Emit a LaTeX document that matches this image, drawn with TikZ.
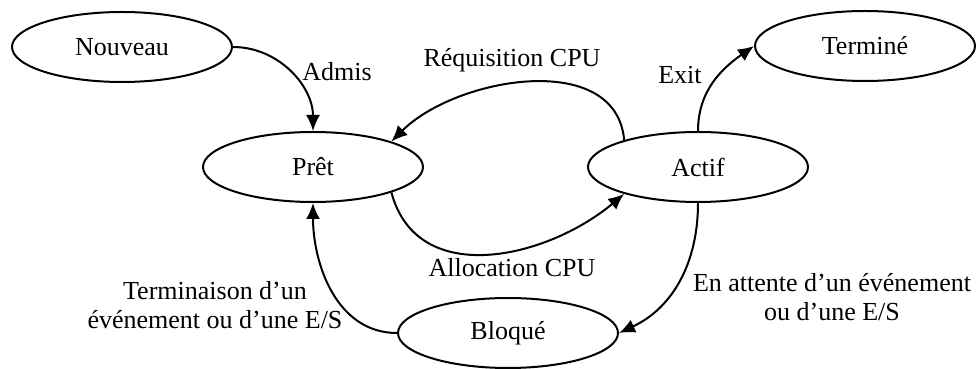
\documentclass[tikz,border=0pt]{standalone}
\usepackage{fontspec}
\setmainfont{Liberation Serif}
\usetikzlibrary{shapes.geometric,arrows.meta}

\tikzset{
	etat/.style={draw,ellipse,line width=1pt,minimum width=110pt,minimum height=35pt,inner sep=0pt,font=\fontsize{13}{14.5}\selectfont},
	etiq/.style={font=\fontsize{13}{14.5}\selectfont,align=center,inner sep=0pt},
	trans/.style={line width=1pt,-{Latex[length=8pt,width=7pt]}}
}

\begin{document}
\begin{tikzpicture}[x=.5pt,y=.5pt]
	\useasboundingbox (0,0) rectangle (979,369);

	% etats
	\node[etat] (nouveau) at (122,322) {Nouveau};
	\node[etat] (pret) at (313,202) {Prêt};
	\node[etat] (actif) at (698,202) {Actif};
	\node[etat] (termine) at (865,323) {Terminé};
	\node[etat] (bloque) at (508,36) {Bloqué};

	% etiquettes
	\node[etiq] (admis) at (337,297) {Admis};
	\node[etiq] (requis) at (512,309) {Réquisition CPU};
	\node[etiq] (exit) at (680,294) {Exit};
	\node[etiq] (alloc) at (512,101) {Allocation CPU};
	\node[etiq] (termin) at (215,64) {Terminaison d’un\\événement ou d’une E/S};
	\node[etiq] (attente) at (832,72) {En attente d’un événement\\ou d’une E/S};

	% transitions
	\draw[trans] (nouveau.east) to[out=0,in=90] (pret.north);
	\draw[trans] (actif.160) to[out=95,in=45] (pret.18);
	\draw[trans] (pret.-18) to[out=-75,in=-140,looseness=1.1] (actif.-160);
	\draw[trans] (actif.north) to[out=90,in=215] (termine.west);
	\draw[trans] (actif.south) to[out=-90,in=25] (bloque.east);
	\draw[trans] (bloque.west) to[out=180,in=-90] (pret.south);
\end{tikzpicture}
\end{document}
